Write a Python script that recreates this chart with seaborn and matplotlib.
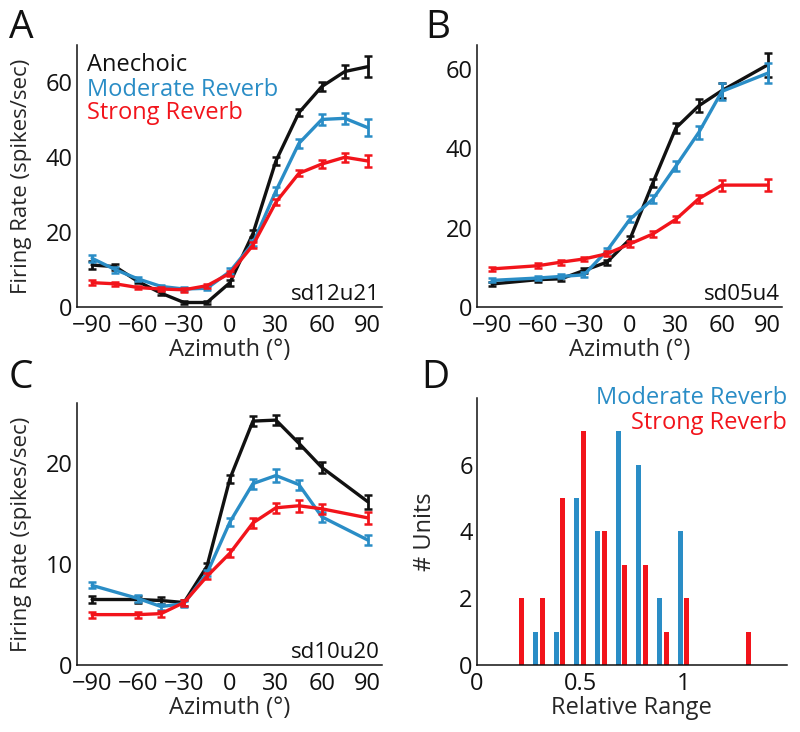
import numpy as np
import pandas as pd
import matplotlib
matplotlib.use("Agg")
import matplotlib.pyplot as plt
from matplotlib.ticker import FixedLocator
import seaborn as sns

# ---- data ----
az_a = [-90, -75, -60, -45, -30, -15, 0, 15, 30, 45, 60, 75, 90]
a_anech = [11.2, 10.8, 6.8, 3.7, 1.2, 1.2, 6.5, 19.6, 39.0, 51.9, 58.9, 62.9, 64.2]
a_anech_err = [1.0, 0.8, 0.5, 0.5, 0.5, 0.5, 0.8, 1.0, 1.0, 1.0, 1.3, 1.8, 2.8]
a_mod = [13.0, 10.0, 7.5, 5.5, 4.8, 5.0, 9.5, 17.0, 31.0, 43.7, 50.1, 50.4, 47.9]
a_mod_err = [1.0, 0.8, 0.6, 0.5, 0.5, 0.5, 0.8, 0.8, 1.0, 1.2, 1.5, 1.5, 2.3]
a_strong = [6.5, 6.2, 5.2, 4.8, 4.6, 5.7, 9.0, 16.5, 28.0, 35.7, 38.2, 40.0, 39.0]
a_strong_err = [0.6, 0.5, 0.5, 0.5, 0.5, 0.5, 0.6, 0.8, 0.8, 0.8, 1.0, 1.2, 1.6]

az_b = [-90, -60, -45, -30, -15, 0, 15, 30, 45, 60, 90]
b_anech = [5.8, 6.9, 7.1, 9.2, 11.3, 17.1, 31.3, 45.1, 50.7, 54.5, 61.0]
b_anech_err = [0.5, 0.5, 0.5, 0.6, 0.6, 0.8, 1.0, 1.2, 1.6, 1.8, 3.0]
b_mod = [6.7, 7.3, 7.7, 8.1, 14.2, 22.1, 27.2, 35.5, 44.0, 54.3, 58.9]
b_mod_err = [0.5, 0.5, 0.5, 0.6, 0.6, 0.8, 1.0, 1.2, 1.6, 2.2, 2.6]
b_strong = [9.6, 10.4, 11.3, 12.1, 13.4, 15.9, 18.4, 22.1, 27.3, 30.7, 30.7]
b_strong_err = [0.6, 0.6, 0.6, 0.6, 0.6, 0.7, 0.8, 0.8, 1.0, 1.4, 1.6]

az_c = [-90, -60, -45, -30, -15, 0, 15, 30, 45, 60, 90]
c_anech = [6.5, 6.5, 6.4, 6.2, 9.8, 18.5, 24.2, 24.3, 22.0, 19.6, 16.2]
c_anech_err = [0.3, 0.3, 0.3, 0.3, 0.3, 0.4, 0.5, 0.5, 0.5, 0.5, 0.7]
c_mod = [7.9, 6.6, 5.8, 6.1, 9.1, 14.2, 18.0, 18.8, 17.9, 14.7, 12.4]
c_mod_err = [0.3, 0.3, 0.3, 0.3, 0.3, 0.4, 0.5, 0.6, 0.5, 0.5, 0.5]
c_strong = [5.0, 5.0, 5.1, 6.2, 8.8, 11.1, 14.1, 15.6, 15.8, 15.5, 14.6]
c_strong_err = [0.3, 0.3, 0.3, 0.3, 0.3, 0.4, 0.5, 0.5, 0.6, 0.5, 0.6]

range_bins = [0.2, 0.3, 0.4, 0.5, 0.6, 0.7, 0.8, 0.9, 1.0, 1.1, 1.2, 1.3]
units_mod = [0, 1, 1, 5, 4, 7, 6, 2, 4, 0, 0, 0]
units_strong = [2, 2, 5, 7, 4, 3, 3, 1, 2, 0, 0, 1]

BLACK = "#111111"
BLUE = "#2a8dc6"
RED = "#f2141b"

sns.set_style("white")
plt.rcParams["font.family"] = ["Open Sans", "DejaVu Sans"]
plt.rcParams["axes.linewidth"] = 1.1
plt.rcParams["text.color"] = BLACK

fig = plt.figure(figsize=(8.0, 7.32), dpi=100)
ax_a = fig.add_axes([0.096, 0.5806, 0.381, 0.358])
ax_b = fig.add_axes([0.596, 0.5806, 0.381, 0.358])
ax_c = fig.add_axes([0.096, 0.0915, 0.381, 0.358])
ax_d = fig.add_axes([0.596, 0.0915, 0.3875, 0.365])


def style_axes(ax, ymax, yticks, ylabels):
    sns.despine(ax=ax)
    ax.set_ylim(0, ymax)
    ax.yaxis.set_major_locator(FixedLocator(yticks))
    ax.set_yticklabels(ylabels)
    ax.tick_params(direction="in", length=4, width=1, labelsize=17,
                   pad=3, colors=BLACK)
    ax.tick_params(axis="x", pad=5)
    for s in ax.spines.values():
        s.set_color(BLACK)


def tuning_panel(ax, az, series, tag):
    for vals, err, col in series:
        sns.lineplot(x=az, y=vals, color=col, lw=2.4, ax=ax, legend=False)
        ax.errorbar(az, vals, yerr=err, fmt="none", ecolor=col,
                    elinewidth=2.0, capsize=3, capthick=1.8)
    ax.set_xlim(-100, 99)
    ax.set_xticks([-90, -60, -30, 0, 30, 60, 90])
    ax.set_xlabel("Azimuth (°)", fontsize=17, labelpad=0)
    ax.text(0.995, 0.046, tag, transform=ax.transAxes, ha="right",
            va="center", fontsize=16)


tuning_panel(ax_a, az_a, [(a_anech, a_anech_err, BLACK),
                          (a_mod, a_mod_err, BLUE),
                          (a_strong, a_strong_err, RED)], "sd12u21")
style_axes(ax_a, 70, range(0, 70, 10), ["0", "", "20", "", "40", "", "60"])
ax_a.set_ylabel("Firing Rate (spikes/sec)", fontsize=16, labelpad=10)
for txt, col, y in [("Anechoic", BLACK, 0.924), ("Moderate Reverb", BLUE, 0.828),
                    ("Strong Reverb", RED, 0.74)]:
    ax_a.text(0.033, y, txt, color=col, transform=ax_a.transAxes,
              fontsize=17, va="center", ha="left")

tuning_panel(ax_b, az_b, [(b_anech, b_anech_err, BLACK),
                          (b_mod, b_mod_err, BLUE),
                          (b_strong, b_strong_err, RED)], "sd05u4")
style_axes(ax_b, 66, range(0, 70, 10), ["0", "", "20", "", "40", "", "60"])

tuning_panel(ax_c, az_c, [(c_anech, c_anech_err, BLACK),
                          (c_mod, c_mod_err, BLUE),
                          (c_strong, c_strong_err, RED)], "sd10u20")
style_axes(ax_c, 26, range(0, 30, 5), ["0", "", "10", "", "20", ""])
ax_c.set_ylabel("Firing Rate (spikes/sec)", fontsize=16, labelpad=10)

# D: histogram of relative range
hist = pd.DataFrame({
    "bin": range_bins * 2,
    "units": units_mod + units_strong,
    "cond": ["Moderate Reverb"] * len(range_bins) + ["Strong Reverb"] * len(range_bins),
})
sns.barplot(data=hist, x="bin", y="units", hue="cond", native_scale=True,
            palette=[BLUE, RED], saturation=1, width=0.66, gap=0.27,
            errorbar=None, linewidth=0, legend=False, ax=ax_d)
style_axes(ax_d, 8, range(0, 8), ["0", "", "2", "", "4", "", "6", ""])
ax_d.set_xlim(0, 1.5)
ax_d.xaxis.set_major_locator(FixedLocator([0, 0.25, 0.5, 0.75, 1.0, 1.25]))
ax_d.set_xticklabels(["0", "", "0.5", "", "1", ""])
ax_d.set_xlabel("Relative Range", fontsize=17, labelpad=0)
ax_d.set_ylabel("# Units", fontsize=17, labelpad=16)
ax_d.text(1.0, 1.0, "Moderate Reverb", color=BLUE, transform=ax_d.transAxes,
          fontsize=17, ha="right", va="center")
ax_d.text(1.0, 0.906, "Strong Reverb", color=RED, transform=ax_d.transAxes,
          fontsize=17, ha="right", va="center")

for letter, x, y in [("A", 0.011, 0.962), ("B", 0.531, 0.962),
                     ("C", 0.011, 0.483), ("D", 0.527, 0.483)]:
    fig.text(x, y, letter, fontsize=28, va="center", ha="left")

fig.savefig("out.png", dpi=100)
